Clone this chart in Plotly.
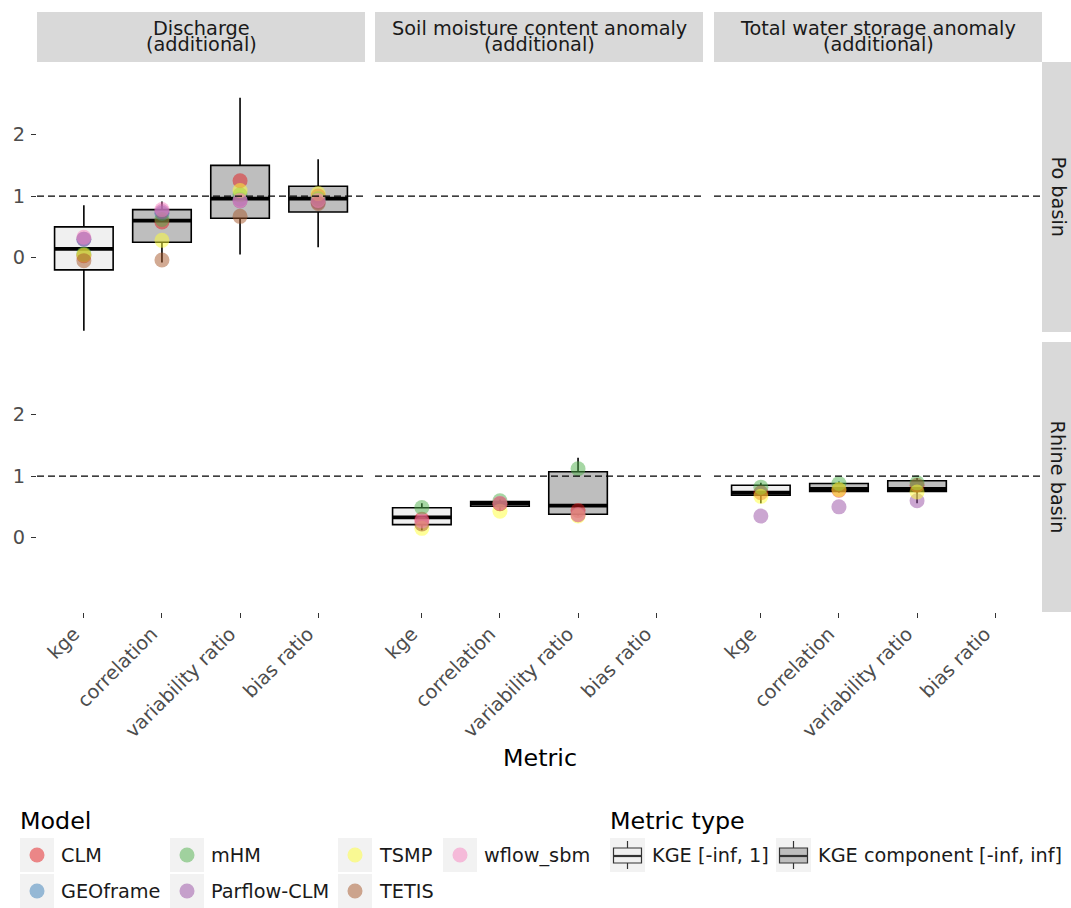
import plotly.graph_objects as go

W, H = 1071, 908
FONT = "DejaVu Sans"
FS = 19.3      # small text
FT = 23.8      # titles

# ---------------- data ----------------
metrics = ["kge", "correlation", "variability ratio", "bias ratio"]
variables = ["Discharge", "Soil moisture content anomaly", "Total water storage anomaly"]
variable_sub = "(additional)"
basins = ["Po basin", "Rhine basin"]
models = ["CLM", "GEOframe", "mHM", "Parflow-CLM", "TSMP", "TETIS", "wflow_sbm"]
model_colors = ["#E41A1C", "#377EB8", "#4DAF4A", "#984EA3", "#FFFF33", "#A65628", "#F781BF"]
metric_types = ["KGE [-inf, 1]", "KGE component [-inf, inf]"]
metric_type_fill = ["#F0F0F0", "#BEBEBE"]
metric_type_of = [0, 1, 1, 1]          # kge -> KGE, others -> component

# box statistics, one entry per box
box_basin  = [0, 0, 0, 0, 1, 1, 1, 1, 1, 1]
box_var    = [0, 0, 0, 0, 1, 1, 1, 2, 2, 2]
box_metric = [0, 1, 2, 3, 0, 1, 2, 0, 1, 2]
box_low    = [-1.19, -0.08, 0.05, 0.17, 0.12, 0.44, 0.36, 0.56, 0.73, 0.56]
box_q1     = [-0.20, 0.25, 0.64, 0.74, 0.21, 0.51, 0.38, 0.69, 0.75, 0.75]
box_med    = [0.14, 0.60, 0.96, 0.96, 0.33, 0.555, 0.52, 0.73, 0.79, 0.79]
box_q3     = [0.50, 0.78, 1.50, 1.16, 0.485, 0.585, 1.07, 0.85, 0.88, 0.925]
box_high   = [0.85, 0.91, 2.60, 1.60, 0.56, 0.62, 1.30, 0.89, 0.91, 0.97]

# per-model values (kge, correlation, variability ratio, bias ratio)
po_discharge = {
    "CLM":         [0.03, 0.58, 1.25, 1.00],
    "GEOframe":    [0.30, 0.72, 0.95, 0.96],
    "mHM":         [0.06, 0.62, 1.02, 0.95],
    "Parflow-CLM": [0.30, 0.75, 0.92, 0.90],
    "TSMP":        [0.04, 0.28, 1.09, 1.04],
    "TETIS":       [-0.05, -0.04, 0.67, 0.88],
    "wflow_sbm":   [0.33, 0.78, 0.93, 0.93],
}
rhine_soil_moisture = {
    "CLM":       [0.30, 0.55, 0.44, None],
    "mHM":       [0.49, 0.60, 1.12, None],
    "TSMP":      [0.15, 0.43, 0.35, None],
    "TETIS":     [0.22, 0.55, 0.37, None],
    "wflow_sbm": [0.27, 0.56, 0.37, None],
}
rhine_tws = {
    "CLM":         [0.73, 0.77, 0.85, None],
    "mHM":         [0.82, 0.88, 0.89, None],
    "Parflow-CLM": [0.35, 0.50, 0.60, None],
    "TSMP":        [0.67, 0.78, 0.74, None],
}
point_panels = [(0, 0, po_discharge), (1, 1, rhine_soil_moisture), (1, 2, rhine_tws)]

y_ticks = [0, 1, 2]
y_range = [-1.21, 3.18]
x_range = [0.4, 4.6]
ref_line = 1

# ---------------- layout geometry (pixels) ----------------
col_px = [(37, 365), (375, 703), (714, 1042)]
row_px = [(62, 332), (342, 612)]
strip_top = 12
strip_right = 1071


def px(x):
    return x / W


def py(y):
    return 1 - y / H


def hexa(c, a):
    c = c.lstrip("#")
    return "rgba(%d,%d,%d,%.2f)" % (int(c[0:2], 16), int(c[2:4], 16), int(c[4:6], 16), a)


fig = go.Figure()
layout = dict(
    width=W, height=H, autosize=False,
    margin=dict(l=0, r=0, t=0, b=0),
    paper_bgcolor="white", plot_bgcolor="white",
    showlegend=False,
    font=dict(family=FONT, size=FS, color="#1A1A1A"),
)

shapes, annotations = [], []


def axis_id(r, c):
    return r * 3 + c + 1


for r in range(2):
    for c in range(3):
        n = axis_id(r, c)
        xk = "xaxis" if n == 1 else "xaxis%d" % n
        yk = "yaxis" if n == 1 else "yaxis%d" % n
        xa = "x" if n == 1 else "x%d" % n
        ya = "y" if n == 1 else "y%d" % n
        layout[xk] = dict(
            domain=[px(col_px[c][0]), px(col_px[c][1])], anchor=ya,
            range=x_range, showgrid=False, zeroline=False, showline=False,
            tickvals=[1, 2, 3, 4], ticktext=metrics,
            showticklabels=(r == 1), ticks="outside" if r == 1 else "",
            ticklen=5, tickwidth=1.1, tickcolor="#333333", tickangle=-45,
            ticklabelshift=-10, ticklabelstandoff=-3,
            tickfont=dict(family=FONT, size=FS, color="#4D4D4D"),
            fixedrange=True,
        )
        layout[yk] = dict(
            domain=[py(row_px[r][1]), py(row_px[r][0])], anchor=xa,
            range=y_range, showgrid=False, zeroline=False, showline=False,
            tickvals=y_ticks, showticklabels=(c == 0), ticks="outside" if c == 0 else "",
            ticklen=5, tickwidth=1.1, tickcolor="#333333", ticklabelstandoff=2,
            tickfont=dict(family=FONT, size=FS, color="#4D4D4D"),
            fixedrange=True,
        )
        # dashed reference line
        shapes.append(dict(type="line", xref="%s domain" % xa, yref=ya,
                           x0=0, x1=1, y0=ref_line, y1=ref_line, layer="above",
                           line=dict(color="black", width=1.2, dash="7px,4px")))

# boxes
for i in range(len(box_q1)):
    r, c, m = box_basin[i], box_var[i], box_metric[i]
    n = axis_id(r, c)
    xa = "x" if n == 1 else "x%d" % n
    ya = "y" if n == 1 else "y%d" % n
    pos = m + 1
    fig.add_trace(go.Box(
        x=[pos], q1=[box_q1[i]], median=[box_med[i]], q3=[box_q3[i]],
        lowerfence=[box_low[i]], upperfence=[box_high[i]],
        width=0.75, whiskerwidth=0, boxpoints=False,
        fillcolor=metric_type_fill[metric_type_of[m]],
        line=dict(color="black", width=1.6),
        xaxis=xa, yaxis=ya, hoverinfo="skip",
    ))
    fig.add_trace(go.Scatter(
        x=[pos - 0.375, pos + 0.375], y=[box_med[i], box_med[i]],
        mode="lines", line=dict(color="black", width=3.8),
        xaxis=xa, yaxis=ya, hoverinfo="skip",
    ))

# model points
for r, c, vals in point_panels:
    n = axis_id(r, c)
    xa = "x" if n == 1 else "x%d" % n
    ya = "y" if n == 1 else "y%d" % n
    for k, model in enumerate(models):
        if model not in vals:
            continue
        xs = [m + 1 for m, v in enumerate(vals[model]) if v is not None]
        ys = [v for v in vals[model] if v is not None]
        fig.add_trace(go.Scatter(
            x=xs, y=ys, mode="markers", name=model,
            marker=dict(size=15, color=hexa(model_colors[k], 0.5), line=dict(width=0)),
            xaxis=xa, yaxis=ya,
        ))

# strips (top)
for c, name in enumerate(variables):
    x0, x1 = col_px[c]
    shapes.append(dict(type="rect", xref="paper", yref="paper", layer="below",
                       x0=px(x0), x1=px(x1), y0=py(row_px[0][0]), y1=py(strip_top),
                       fillcolor="#D9D9D9", line=dict(width=0)))
    for text, yc in ((name, 28.0), (variable_sub, 44.5)):
        annotations.append(dict(text=text, xref="paper", yref="paper",
                                x=px((x0 + x1) / 2), y=py(yc), showarrow=False,
                                xanchor="center", yanchor="middle",
                                font=dict(family=FONT, size=FS, color="#1A1A1A")))
# strips (right)
for r, name in enumerate(basins):
    y0, y1 = row_px[r]
    shapes.append(dict(type="rect", xref="paper", yref="paper", layer="below",
                       x0=px(col_px[2][1]), x1=px(strip_right), y0=py(y1), y1=py(y0),
                       fillcolor="#D9D9D9", line=dict(width=0)))
    annotations.append(dict(text=name, xref="paper", yref="paper",
                            x=px((col_px[2][1] + strip_right) / 2 + 1), y=py((y0 + y1) / 2),
                            showarrow=False, textangle=90, xanchor="center", yanchor="middle",
                            font=dict(family=FONT, size=FS, color="#1A1A1A")))

# axis title
annotations.append(dict(text="Metric", xref="paper", yref="paper",
                        x=px((col_px[0][0] + col_px[2][1]) / 2), y=py(758), showarrow=False,
                        xanchor="center", yanchor="middle",
                        font=dict(family=FONT, size=FT, color="black")))

# ---------------- legends (drawn) ----------------
title_y = 821
row_cy = [855, 891]
key = 34
annotations.append(dict(text="Model", xref="paper", yref="paper", x=px(18), y=py(title_y),
                        showarrow=False, xanchor="left", yanchor="middle",
                        font=dict(family=FONT, size=FT, color="black")))
legend_cols = [["CLM", "GEOframe"], ["mHM", "Parflow-CLM"], ["TSMP", "TETIS"], ["wflow_sbm"]]
legend_col_x = [20, 170, 338, 443]
for col, lx in zip(legend_cols, legend_col_x):
    for j, model in enumerate(col):
        cy = row_cy[j]
        color = model_colors[models.index(model)]
        shapes.append(dict(type="rect", xref="paper", yref="paper",
                           x0=px(lx), x1=px(lx + key), y0=py(cy + key / 2), y1=py(cy - key / 2),
                           fillcolor="#F2F2F2", line=dict(width=0)))
        cx = lx + key / 2
        shapes.append(dict(type="circle", xref="paper", yref="paper",
                           x0=px(cx - 7.5), x1=px(cx + 7.5), y0=py(cy + 7.5), y1=py(cy - 7.5),
                           fillcolor=hexa(color, 0.5), line=dict(width=0)))
        annotations.append(dict(text=model, xref="paper", yref="paper",
                                x=px(lx + key + 5), y=py(cy), showarrow=False,
                                xanchor="left", yanchor="middle",
                                font=dict(family=FONT, size=FS, color="#1A1A1A")))

annotations.append(dict(text="Metric type", xref="paper", yref="paper", x=px(608), y=py(title_y),
                        showarrow=False, xanchor="left", yanchor="middle",
                        font=dict(family=FONT, size=FT, color="black")))
mt_x = [610, 776]
for j, (lab, lx) in enumerate(zip(metric_types, mt_x)):
    cy = row_cy[0]
    shapes.append(dict(type="rect", xref="paper", yref="paper",
                       x0=px(lx), x1=px(lx + key + 1), y0=py(cy + key / 2), y1=py(cy - key / 2),
                       fillcolor="#F2F2F2", line=dict(width=0)))
    cx = lx + (key + 1) / 2
    shapes.append(dict(type="line", xref="paper", yref="paper",
                       x0=px(cx), x1=px(cx), y0=py(cy + 14), y1=py(cy - 14),
                       line=dict(color="#333333", width=1.2)))
    shapes.append(dict(type="rect", xref="paper", yref="paper",
                       x0=px(cx - 14), x1=px(cx + 14), y0=py(cy + 8), y1=py(cy - 7),
                       fillcolor=metric_type_fill[j], line=dict(color="#333333", width=1.2)))
    shapes.append(dict(type="line", xref="paper", yref="paper",
                       x0=px(cx - 14), x1=px(cx + 14), y0=py(cy + 1), y1=py(cy + 1),
                       line=dict(color="#333333", width=2.2)))
    annotations.append(dict(text=lab, xref="paper", yref="paper",
                            x=px(lx + key + 6), y=py(cy), showarrow=False,
                            xanchor="left", yanchor="middle",
                            font=dict(family=FONT, size=FS, color="#1A1A1A")))

layout["shapes"] = shapes
layout["annotations"] = annotations
fig.update_layout(**layout)
fig.write_html("out.html", config={"displayModeBar": False},
               post_script="document.body.style.margin='0';document.body.style.overflow='hidden';")
